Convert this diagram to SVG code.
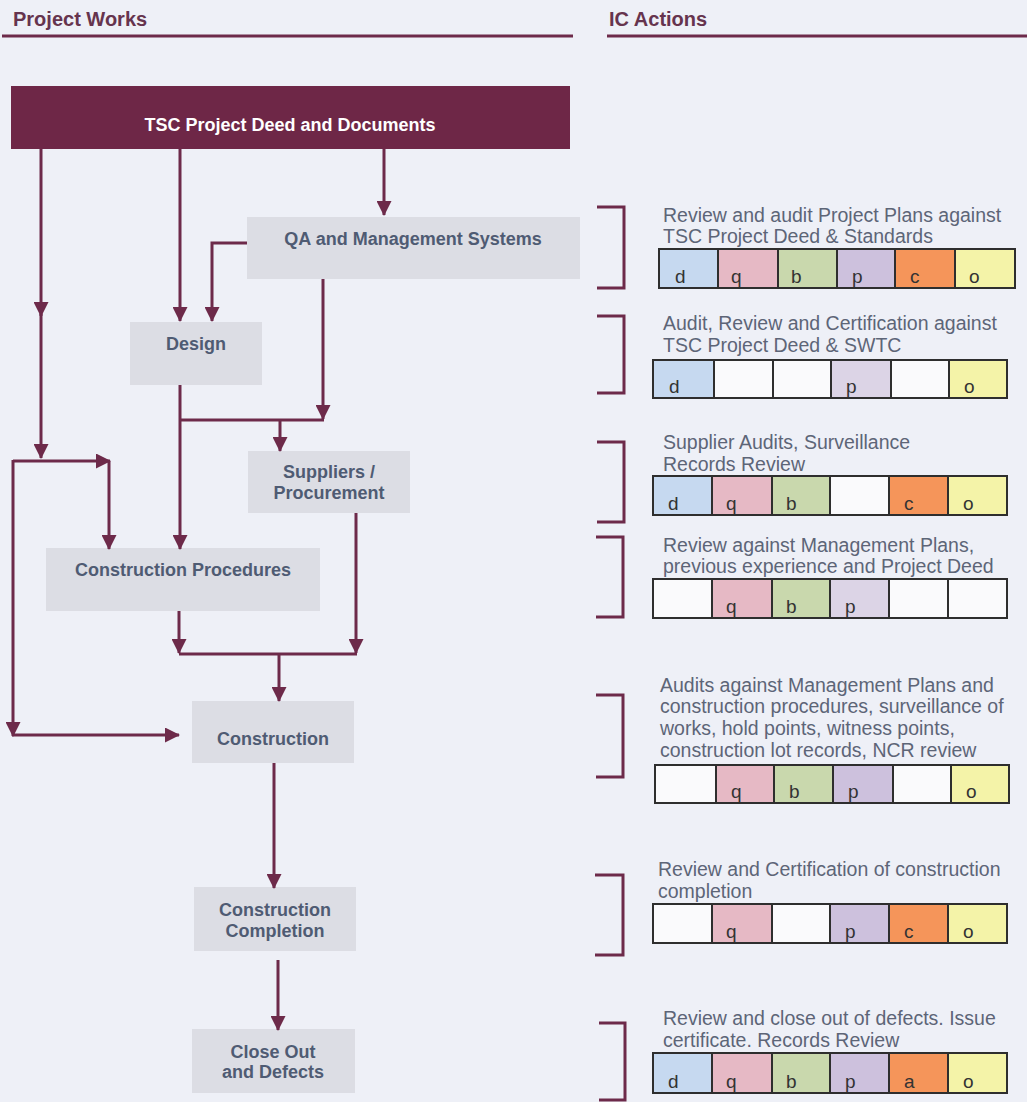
<svg xmlns="http://www.w3.org/2000/svg" width="1027" height="1102" viewBox="0 0 1027 1102">
<defs>
<marker id="ah" markerUnits="userSpaceOnUse" markerWidth="15" markerHeight="15" refX="14" refY="7.5" orient="auto">
<path d="M0,0 L15,7.5 L0,15 z" fill="#6d2a4a"/>
</marker>
</defs>
<style>
.hdr{font-family:"Liberation Sans",Arial,sans-serif;font-weight:bold;font-size:20px;fill:#66344e}
.rule{stroke:#6d2a4a;stroke-width:3}
.node rect{fill:#dcdde4}
.node text{font-family:"Liberation Sans",Arial,sans-serif;font-weight:bold;font-size:18px;fill:#4f5b73;text-anchor:middle}
#n-tsc rect{fill:#6e2747}
#n-tsc text{fill:#ffffff}
.conn path{fill:none;stroke:#6d2a4a;stroke-width:3}
.arr{marker-end:url(#ah)}
.br{fill:none;stroke:#6d2a4a;stroke-width:3}
.act{font-family:"Liberation Sans",Arial,sans-serif;font-size:19.5px;fill:#5d6577}
.cell{stroke:#2e2e2e;stroke-width:2}
.lt{font-family:"Liberation Sans",Arial,sans-serif;font-size:19px;fill:#333333}
.w{fill:#fafafc}.bl{fill:#c6d9f0}.pk{fill:#e6b9c5}.gr{fill:#c9d8ad}.lv{fill:#cdc1dd}.ll{fill:#dcd4e6}.or{fill:#f5955a}.ye{fill:#f4f3a8}
</style>
<rect x="0" y="0" width="1027" height="1102" fill="#eef0f7"/>

<g id="header">
<text class="hdr" x="13" y="26">Project Works</text>
<text class="hdr" x="609" y="26">IC Actions</text>
<line class="rule" x1="2" y1="36" x2="573" y2="36"/>
<line class="rule" x1="607" y1="36" x2="1027" y2="36"/>
</g>

<g id="n-tsc" class="node"><rect x="11" y="86" width="559" height="63"/><text x="290" y="131">TSC Project Deed and Documents</text></g>
<g id="n-qa" class="node"><rect x="247" y="217" width="333" height="62"/><text x="413" y="245">QA and Management Systems</text></g>
<g id="n-design" class="node"><rect x="130" y="322" width="132" height="63"/><text x="196" y="350">Design</text></g>
<g id="n-suppliers" class="node"><rect x="248" y="451" width="162" height="62"/><text x="329" y="478">Suppliers /</text><text x="329" y="499">Procurement</text></g>
<g id="n-conproc" class="node"><rect x="46" y="548" width="274" height="63"/><text x="183" y="576">Construction Procedures</text></g>
<g id="n-construction" class="node"><rect x="192" y="701" width="162" height="62"/><text x="273" y="745">Construction</text></g>
<g id="n-completion" class="node"><rect x="194" y="887" width="162" height="64"/><text x="275" y="916">Construction</text><text x="275" y="937">Completion</text></g>
<g id="n-closeout" class="node"><rect x="192" y="1029" width="163" height="64"/><text x="273" y="1058">Close Out</text><text x="273" y="1078">and Defects</text></g>

<g id="connectors" class="conn">
<path class="arr" d="M41,149 V316"/>
<path class="arr" d="M41,314 V458"/>
<path class="arr" d="M13,461 H110"/>
<path class="arr" d="M109,461 V549"/>
<path class="arr" d="M13,460 V736"/>
<path class="arr" d="M12,735 H179"/>
<path class="arr" d="M180,149 V321"/>
<path class="arr" d="M247,243 H212 V321"/>
<path class="arr" d="M384,149 V215"/>
<path class="arr" d="M323,279 V419"/>
<path d="M180,420 H324"/>
<path class="arr" d="M180,385 V549"/>
<path class="arr" d="M280,420 V451"/>
<path class="arr" d="M356,513 V653"/>
<path class="arr" d="M179,611 V653"/>
<path d="M179,654 H357"/>
<path class="arr" d="M279,654 V701"/>
<path class="arr" d="M274,763 V888"/>
<path class="arr" d="M278,960 V1030"/>
</g>

<g id="a1">
<path class="br" d="M597,207 H624 V288 H597"/>
<text class="act" x="663" y="222">Review and audit Project Plans against</text>
<text class="act" x="663" y="243">TSC Project Deed &amp; Standards</text>
<rect class="cell bl" x="659" y="249" width="59" height="39"/><rect class="cell pk" x="718" y="249" width="60" height="39"/><rect class="cell gr" x="778" y="249" width="59" height="39"/><rect class="cell lv" x="837" y="249" width="58" height="39"/><rect class="cell or" x="895" y="249" width="60" height="39"/><rect class="cell ye" x="955" y="249" width="60" height="39"/>
<text class="lt" x="675" y="283">d</text><text class="lt" x="731" y="283">q</text><text class="lt" x="791" y="283">b</text><text class="lt" x="852" y="283">p</text><text class="lt" x="910" y="283">c</text><text class="lt" x="969" y="283">o</text>
</g>

<g id="a2">
<path class="br" d="M597,316 H624 V393 H597"/>
<text class="act" x="663" y="330">Audit, Review and Certification against</text>
<text class="act" x="663" y="352">TSC Project Deed &amp; SWTC</text>
<rect class="cell bl" x="653" y="360" width="61" height="38"/><rect class="cell w" x="714" y="360" width="59" height="38"/><rect class="cell w" x="773" y="360" width="58" height="38"/><rect class="cell ll" x="831" y="360" width="60" height="38"/><rect class="cell w" x="891" y="360" width="58" height="38"/><rect class="cell ye" x="949" y="360" width="58" height="38"/>
<text class="lt" x="669" y="393">d</text><text class="lt" x="846" y="393">p</text><text class="lt" x="964" y="393">o</text>
</g>

<g id="a3">
<path class="br" d="M597,442 H624 V522 H597"/>
<text class="act" x="663" y="449">Supplier Audits, Surveillance</text>
<text class="act" x="663" y="471">Records Review</text>
<rect class="cell bl" x="653" y="476" width="59" height="39"/><rect class="cell pk" x="712" y="476" width="60" height="39"/><rect class="cell gr" x="772" y="476" width="58" height="39"/><rect class="cell w" x="830" y="476" width="59" height="39"/><rect class="cell or" x="889" y="476" width="59" height="39"/><rect class="cell ye" x="948" y="476" width="59" height="39"/>
<text class="lt" x="668" y="510">d</text><text class="lt" x="726" y="510">q</text><text class="lt" x="786" y="510">b</text><text class="lt" x="904" y="510">c</text><text class="lt" x="963" y="510">o</text>
</g>

<g id="a4">
<path class="br" d="M596,537 H623 V617 H596"/>
<text class="act" x="663" y="552">Review against Management Plans,</text>
<text class="act" x="663" y="573">previous experience and Project Deed</text>
<rect class="cell w" x="653" y="579" width="59" height="39"/><rect class="cell pk" x="712" y="579" width="60" height="39"/><rect class="cell gr" x="772" y="579" width="58" height="39"/><rect class="cell ll" x="830" y="579" width="59" height="39"/><rect class="cell w" x="889" y="579" width="59" height="39"/><rect class="cell w" x="948" y="579" width="59" height="39"/>
<text class="lt" x="726" y="613">q</text><text class="lt" x="786" y="613">b</text><text class="lt" x="845" y="613">p</text>
</g>

<g id="a5">
<path class="br" d="M596,695 H623 V777 H596"/>
<text class="act" x="660" y="692">Audits against Management Plans and</text>
<text class="act" x="660" y="713">construction procedures, surveillance of</text>
<text class="act" x="660" y="735">works, hold points, witness points,</text>
<text class="act" x="660" y="757">construction lot records, NCR review</text>
<rect class="cell w" x="655" y="765" width="61" height="38"/><rect class="cell pk" x="716" y="765" width="58" height="38"/><rect class="cell gr" x="774" y="765" width="59" height="38"/><rect class="cell lv" x="833" y="765" width="60" height="38"/><rect class="cell w" x="893" y="765" width="58" height="38"/><rect class="cell ye" x="951" y="765" width="58" height="38"/>
<text class="lt" x="731" y="798">q</text><text class="lt" x="789" y="798">b</text><text class="lt" x="848" y="798">p</text><text class="lt" x="966" y="798">o</text>
</g>

<g id="a6">
<path class="br" d="M595,875 H623 V955 H595"/>
<text class="act" x="658" y="876">Review and Certification of construction</text>
<text class="act" x="658" y="898">completion</text>
<rect class="cell w" x="653" y="904" width="59" height="39"/><rect class="cell pk" x="712" y="904" width="60" height="39"/><rect class="cell w" x="772" y="904" width="58" height="39"/><rect class="cell lv" x="830" y="904" width="59" height="39"/><rect class="cell or" x="889" y="904" width="59" height="39"/><rect class="cell ye" x="948" y="904" width="59" height="39"/>
<text class="lt" x="726" y="938">q</text><text class="lt" x="845" y="938">p</text><text class="lt" x="904" y="938">c</text><text class="lt" x="963" y="938">o</text>
</g>

<g id="a7">
<path class="br" d="M599,1023 H625 V1100 H599"/>
<text class="act" x="663" y="1025">Review and close out of defects. Issue</text>
<text class="act" x="663" y="1047">certificate. Records Review</text>
<rect class="cell bl" x="653" y="1053" width="59" height="40"/><rect class="cell pk" x="712" y="1053" width="60" height="40"/><rect class="cell gr" x="772" y="1053" width="58" height="40"/><rect class="cell lv" x="830" y="1053" width="59" height="40"/><rect class="cell or" x="889" y="1053" width="59" height="40"/><rect class="cell ye" x="948" y="1053" width="59" height="40"/>
<text class="lt" x="668" y="1088">d</text><text class="lt" x="726" y="1088">q</text><text class="lt" x="786" y="1088">b</text><text class="lt" x="845" y="1088">p</text><text class="lt" x="904" y="1088">a</text><text class="lt" x="963" y="1088">o</text>
</g>
</svg>
